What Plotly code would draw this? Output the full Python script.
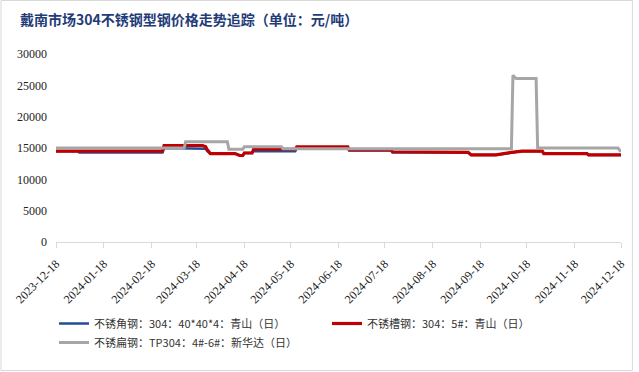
import plotly.graph_objects as go

# ---- data ----
angle_dates = ["2023-12-18", "2024-01-01", "2024-01-02", "2024-02-25", "2024-02-26", "2024-03-22",
               "2024-03-24", "2024-03-25", "2024-03-27", "2024-04-12", "2024-04-15", "2024-04-17",
               "2024-04-18", "2024-04-23", "2024-04-24", "2024-05-21", "2024-05-22", "2024-06-24",
               "2024-06-25", "2024-07-22", "2024-07-23", "2024-09-10", "2024-09-12", "2024-09-28",
               "2024-10-08", "2024-10-15", "2024-10-28", "2024-10-29", "2024-11-26", "2024-11-27",
               "2024-12-18"]
angle_vals = [14500, 14500, 14300, 14300, 15000, 15000,
              14900, 14500, 14100, 14100, 13800, 13800,
              14200, 14200, 14500, 14500, 15000, 15000,
              14600, 14600, 14300, 14300, 13900, 13900,
              14300, 14500, 14500, 14100, 14100, 13900,
              13900]

channel_dates = ["2023-12-18", "2024-02-25", "2024-02-26", "2024-03-22", "2024-03-24", "2024-03-25",
                 "2024-03-27", "2024-04-12", "2024-04-15", "2024-04-17", "2024-04-18", "2024-04-23",
                 "2024-04-24", "2024-05-21", "2024-05-22", "2024-06-24", "2024-06-25", "2024-07-22",
                 "2024-07-23", "2024-08-12", "2024-08-13", "2024-09-10", "2024-09-12", "2024-09-28",
                 "2024-10-08", "2024-10-15", "2024-10-28", "2024-10-29", "2024-11-26", "2024-11-27",
                 "2024-12-18"]
channel_vals = [14500, 14500, 15400, 15400, 15200, 14700,
                14100, 14100, 13800, 13800, 14200, 14200,
                14800, 14800, 15200, 15200, 14700, 14700,
                14400, 14400, 14300, 14300, 13900, 13900,
                14300, 14500, 14500, 14100, 14100, 13900,
                13900]

flat_dates = ["2023-12-18", "2024-03-10", "2024-03-11", "2024-04-07", "2024-04-08", "2024-04-17",
              "2024-04-18", "2024-05-12", "2024-05-13", "2024-10-08", "2024-10-09", "2024-10-11",
              "2024-10-24", "2024-10-25", "2024-12-16", "2024-12-18"]
flat_vals = [15000, 15000, 16000, 16000, 14800, 14800,
             15200, 15200, 14900, 14900, 26600, 26100,
             26100, 15000, 15000, 14400]

tick_dates = ["2023-12-18", "2024-01-18", "2024-02-18", "2024-03-18", "2024-04-18", "2024-05-18",
              "2024-06-18", "2024-07-18", "2024-08-18", "2024-09-18", "2024-10-18", "2024-11-18",
              "2024-12-18"]
y_ticks = [0, 5000, 10000, 15000, 20000, 25000, 30000]

names = ["不锈角钢：304：40*40*4：青山（日）",
         "不锈槽钢：304：5#：青山（日）",
         "不锈扁钢：TP304：4#-6#：新华达（日）"]
title_text = "戴南市场304不锈钢型钢价格走势追踪（单位：元/吨）"

fig = go.Figure()
fig.add_trace(go.Scatter(x=angle_dates, y=angle_vals, mode="lines", name=names[0],
                         line=dict(color="#1F4E96", width=2.5)))
fig.add_trace(go.Scatter(x=channel_dates, y=channel_vals, mode="lines", name=names[1],
                         line=dict(color="#C00000", width=3.2)))
fig.add_trace(go.Scatter(x=flat_dates, y=flat_vals, mode="lines", name=names[2],
                         line=dict(color="#A6A6A6", width=3)))

L, R, T, B = 56, 13, 54, 130
W = 639 - L - R
H = 372 - T - B

fig.update_layout(
    width=639, height=372,
    margin=dict(l=L, r=R, t=T, b=B),
    paper_bgcolor="white", plot_bgcolor="white",
    title=dict(text="<b>" + title_text + "</b>", x=20 / 639, xanchor="left", y=1 - 20 / 372,
               yanchor="middle", font=dict(family="Noto Sans CJK SC", size=14, color="#1F3C78")),
    showlegend=True,
    legend=dict(orientation="h", x=-2 / W, xanchor="left", y=-(309 - 242) / H, yanchor="top",
                entrywidth=228, font=dict(family="Noto Sans CJK SC", size=11, color="#333333"),
                bgcolor="rgba(0,0,0,0)", itemwidth=30, tracegroupgap=0),
    xaxis=dict(type="date", range=["2023-12-18", "2024-12-18"], tickvals=tick_dates,
               ticktext=tick_dates, tickangle=-45, showgrid=False, showline=True,
               linecolor="#D9D9D9", linewidth=1, ticks="outside", ticklen=5, tickcolor="#D9D9D9",
               ticklabelstandoff=4,
               tickfont=dict(family="Liberation Serif", size=12, color="#222222"), zeroline=False),
    yaxis=dict(range=[0, 30000], tickvals=y_ticks, ticktext=[str(v) for v in y_ticks],
               showgrid=False, showline=False, zeroline=False, ticks="", ticklabelstandoff=8,
               tickfont=dict(family="Liberation Serif", size=12, color="#222222")),
    shapes=[dict(type="rect", xref="paper", yref="paper",
                 x0=(0.5 - L) / W, x1=(637.5 - L) / W,
                 y0=-(370.5 - (T + H)) / H, y1=1 + (T - 0.5) / H,
                 line=dict(color="#D9D9D9", width=1), fillcolor="rgba(0,0,0,0)", layer="below")],
)

fig.write_html("out.html", config={"displayModeBar": False},
               post_script="document.body.style.margin='0';")
